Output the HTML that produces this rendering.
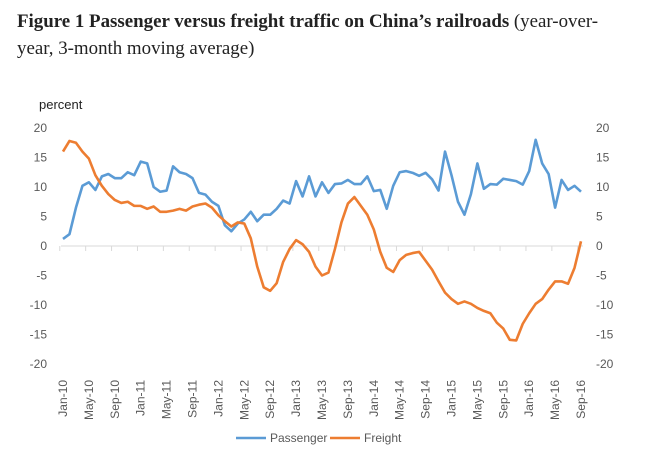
<!DOCTYPE html>
<html><head><meta charset="utf-8"><style>
body{margin:0;background:#fff;}
#t{position:absolute;left:17px;top:8px;width:640px;white-space:nowrap;font-family:"Liberation Serif",serif;font-size:18.9px;line-height:27px;color:#222;}
svg{position:absolute;left:0;top:0;font-family:"Liberation Sans",sans-serif;}
</style></head><body>
<div id="t"><b>Figure 1 Passenger versus freight traffic on China’s railroads</b> (year-over-<br>year, 3-month moving average)</div>
<svg id="c" width="654" height="462"></svg>
<script>
const passenger=[1.2,2,6.5,10.2,10.8,9.5,11.8,12.2,11.5,11.5,12.5,12,14.3,14,10,9.2,9.4,13.5,12.5,12.2,11.5,9,8.7,7.5,6.8,3.5,2.5,3.8,4.5,5.8,4.2,5.3,5.3,6.3,7.7,7.2,11,8.4,11.8,8.4,10.8,9,10.5,10.6,11.2,10.5,10.5,11.8,9.3,9.5,6.3,10.2,12.5,12.7,12.4,11.9,12.4,11.3,9.4,16,12,7.5,5.3,8.8,14,9.7,10.5,10.4,11.4,11.2,11,10.4,12.7,18,14,12.2,6.5,11.2,9.5,10.2,9.2];
const freight=[16,17.8,17.5,16,14.8,12,10.2,8.8,7.8,7.3,7.5,6.8,6.8,6.3,6.7,5.8,5.8,6,6.3,6,6.7,7,7.2,6.5,5.2,4.2,3.3,4,3.8,1.3,-3.5,-7,-7.6,-6.3,-2.7,-0.5,1,0.3,-1,-3.5,-5,-4.5,-0.5,4,7.2,8.3,6.8,5.3,2.8,-1,-3.7,-4.4,-2.4,-1.5,-1.2,-1,-2.5,-4,-6,-7.9,-9,-9.8,-9.4,-9.8,-10.5,-11,-11.4,-13,-14,-15.9,-16,-13.2,-11.4,-9.8,-9,-7.4,-6,-6,-6.4,-3.7,0.8];
const yTicks=[20,15,10,5,0,-5,-10,-15,-20];
const mon=["Jan","May","Sep"];
const svg=document.getElementById('c');const NS='http://www.w3.org/2000/svg';
const x0=63,dx=6.475,y0=246,ky=5.9;
const X=i=>x0+i*dx, Y=v=>y0-v*ky;
function mk(t,a){const e=document.createElementNS(NS,t);for(const k in a)e.setAttribute(k,a[k]);svg.appendChild(e);return e;}
let e=mk('text',{x:39,y:109,'font-size':13,fill:'#222'});e.textContent='percent';


yTicks.forEach(v=>{
 let a=mk('text',{x:47,y:Y(v)+4,'font-size':12,fill:'#595959','text-anchor':'end'});a.textContent=v;
 
 
 let b=mk('text',{x:596,y:Y(v)+4,'font-size':12,fill:'#595959'});b.textContent=v;
 
 
});
e=mk('line',{x1:x0-2,x2:X(80)+2,y1:y0,y2:y0,stroke:'#d9d9d9','stroke-width':1});


for(let i=0;i<=80;i+=4){
 let t=mk('line',{x1:X(i)-dx/2,x2:X(i)-dx/2,y1:y0,y2:y0+5,stroke:'#d9d9d9'});
 
 
 const lab=mon[(i/4)%3]+'-'+(10+Math.floor(i/12));
 let l=mk('text',{x:0,y:0,'font-size':12,fill:'#595959','text-anchor':'end',transform:`translate(${X(i)+4},380) rotate(-90)`});l.textContent=lab;
 
 
}
function line(d,c,n){let p=mk('polyline',{points:d.map((v,i)=>X(i)+','+Y(v)).join(' '),fill:'none',stroke:c,'stroke-width':2.6,'stroke-linejoin':'round'});
 
 }
line(passenger,'#5b9bd5','passenger-line');
line(freight,'#ed7d31','freight-line');
[[236,'#5b9bd5','Passenger','legend-passenger'],[330,'#ed7d31','Freight','legend-freight']].forEach(([x,c,t,n])=>{
 let g=mk('line',{x1:x,x2:x+30,y1:438,y2:438,stroke:c,'stroke-width':2.6});
 
 
 let s=mk('text',{x:x+34,y:442,'font-size':12,fill:'#595959'});s.textContent=t;
 
 
});
</script>
</body></html>
